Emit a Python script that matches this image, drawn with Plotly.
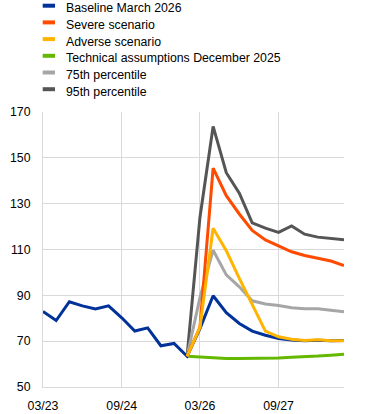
import plotly.graph_objects as go

dates = ["2023-03-01", "2023-06-01", "2023-09-01", "2023-12-01",
         "2024-03-01", "2024-06-01", "2024-09-01", "2024-12-01",
         "2025-03-01", "2025-06-01", "2025-09-01", "2025-12-01",
         "2026-03-01", "2026-06-01", "2026-09-01", "2026-12-01",
         "2027-03-01", "2027-06-01", "2027-09-01", "2027-12-01",
         "2028-03-01", "2028-06-01", "2028-09-01", "2028-12-01"]

pre = [None] * 11

baseline = [83.0, 79.0, 87.2, 85.4, 84.0, 85.4, 80.2, 74.4, 75.8, 68.0, 69.0, 63.4,
            75.5, 89.8, 82.4, 77.7, 74.4, 72.6, 71.2, 70.5, 70.2, 70.4, 70.2, 70.3]
severe = pre + [63.4, 76.0, 145.5, 133.5, 125.5, 118.3, 114.2, 111.6, 109.0, 107.4, 106.2, 105.0, 103.0]
adverse = pre + [63.4, 76.0, 119.3, 109.5, 97.4, 85.7, 74.4, 71.9, 70.8, 70.3, 70.6, 70.2, 70.2]
technical = pre + [63.4, 63.0, 62.5, 62.4, 62.4, 62.4, 62.4, 62.7, 63.0, 63.1, 63.5, 63.9, 64.3]
p75 = pre + [63.4, 89.0, 109.7, 98.9, 93.7, 87.6, 86.2, 85.6, 84.6, 84.1, 84.1, 83.3, 82.8]
p95 = pre + [63.4, 124.0, 163.7, 143.5, 134.6, 121.6, 119.3, 117.5, 120.3, 116.7, 115.4, 114.8, 114.2]

names = ["Baseline March 2026", "Severe scenario", "Adverse scenario",
         "Technical assumptions December 2025", "75th percentile", "95th percentile"]
colors = ["#003299", "#FF4B00", "#FFB400", "#65B800", "#A6A6A6", "#555555"]
series = [baseline, severe, adverse, technical, p75, p95]

y_ticks = [50, 70, 90, 110, 130, 150, 170]
x_tickvals = ["2023-03-01", "2024-09-01", "2026-03-01", "2027-09-01"]
x_ticktext = ["03/23", "09/24", "03/26", "09/27"]

W, H = 372, 414
ML, MR, MT, MB = 43, 28, 112, 27
PW, PH = W - ML - MR, H - MT - MB

FONT = "Arial, Liberation Sans, sans-serif"
FS = 12.3

fig = go.Figure()
draw_order = [5, 4, 3, 0, 1, 2]
for i in draw_order:
    fig.add_trace(go.Scatter(x=dates, y=series[i], mode="lines", name=names[i],
                             line=dict(color=colors[i], width=3),
                             showlegend=False, connectgaps=False))

def px_x(px):
    return (px - ML) / PW

def px_y(py):
    return (H - MB - py) / PH

shapes = []
annotations = []
for k, (nm, col) in enumerate(zip(names, colors)):
    yc = 5.7 + k * 16.7
    shapes.append(dict(type="rect", xref="paper", yref="paper",
                       x0=px_x(42.7), x1=px_x(55), y0=px_y(yc + 2), y1=px_y(yc - 2),
                       fillcolor=col, line=dict(width=0)))
    annotations.append(dict(xref="paper", yref="paper", x=px_x(64), y=px_y(yc + 2.5),
                            text=nm, showarrow=False, xanchor="left", yanchor="middle",
                            font=dict(family=FONT, size=FS, color="#000000")))

fig.update_layout(
    template="none",
    width=W, height=H,
    margin=dict(l=ML, r=MR, t=MT, b=MB, pad=0),
    paper_bgcolor="white", plot_bgcolor="white",
    font=dict(family=FONT, size=FS, color="#000000"),
    shapes=shapes, annotations=annotations,
    showlegend=False,
    xaxis=dict(type="date", range=["2023-03-01", "2028-12-01"],
               tickvals=x_tickvals, ticktext=x_ticktext, automargin=False,
               showgrid=True, gridcolor="#D9D9D9", gridwidth=1,
               showline=True, linecolor="#D9D9D9", linewidth=1,
               ticks="", ticklabelstandoff=7, zeroline=False,
               tickfont=dict(family=FONT, size=FS, color="#000000")),
    yaxis=dict(range=[50, 170], tickvals=y_ticks, automargin=False,
               showgrid=True, gridcolor="#D9D9D9", gridwidth=1,
               showline=True, linecolor="#D9D9D9", linewidth=1,
               ticks="", ticklabelstandoff=9, zeroline=False,
               tickfont=dict(family=FONT, size=FS, color="#000000")),
)

fig.write_html("out.html", config={"displayModeBar": False},
               post_script="document.body.style.margin='0';")
